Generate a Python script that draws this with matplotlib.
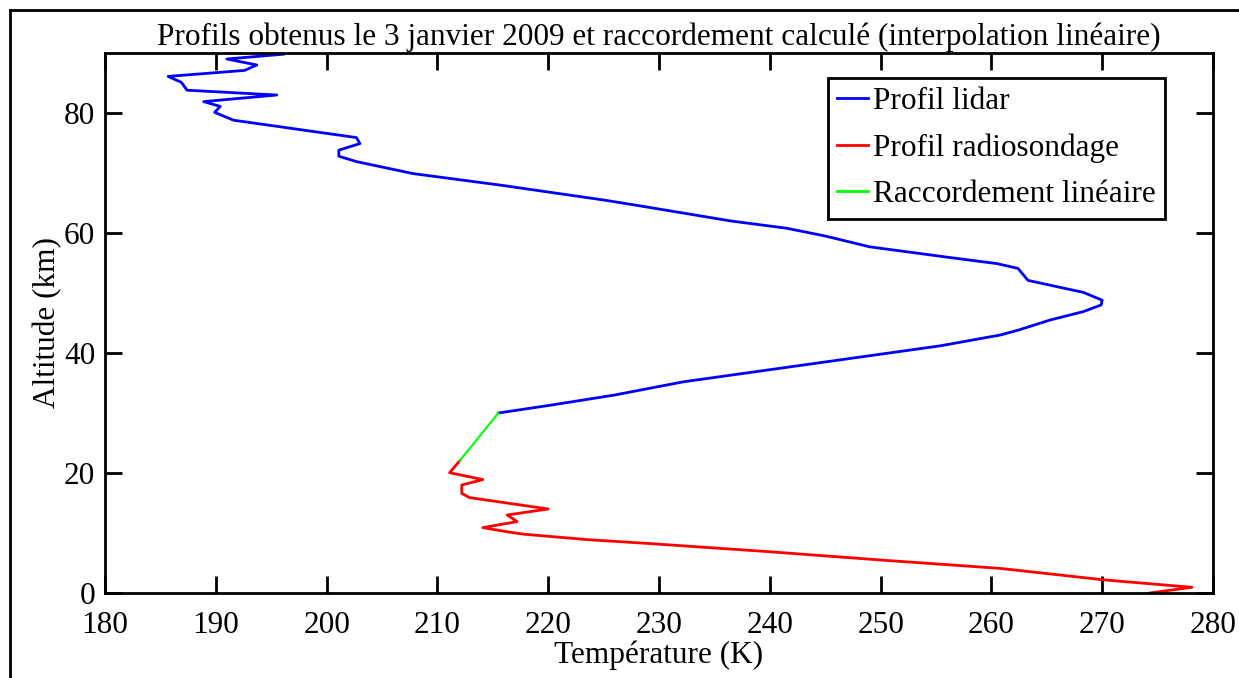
import matplotlib
matplotlib.use("Agg")
import matplotlib.pyplot as plt
from matplotlib.lines import Line2D

# Lidar profile (temperature K, altitude km)
lidar_alt = [30.0, 31.3, 33.0, 35.2, 38.3, 41.2, 43.0, 43.8, 45.5, 46.9, 48.0, 48.8,
             50.1, 52.1, 54.1, 54.9, 55.9, 57.7, 59.5, 60.8, 62.0, 64.7, 65.5, 68.0, 69.9,
             71.9, 72.8, 73.8, 74.9, 75.9, 78.8, 80.1, 81.1, 81.9, 83.0, 83.8, 85.1,
             86.1, 87.1, 88.0, 89.0, 89.8]
lidar_T = [215.5, 220.2, 226.0, 232.2, 244.2, 255.4, 260.8, 262.4, 265.3, 268.3, 269.9, 270.0,
           268.3, 263.3, 262.4, 260.5, 256.3, 249.0, 245.0, 241.5, 236.5, 227.7, 225.0, 215.6, 207.8,
           202.7, 201.1, 201.1, 203.0, 202.7, 191.6, 189.9, 190.4, 188.9, 195.5, 187.4, 186.9,
           185.7, 192.6, 193.7, 191.0, 196.1]

# Radiosonde profile
radio_alt = [0.0, 0.95, 2.2, 4.1, 5.5, 6.9, 8.2, 8.9, 9.8, 10.2, 10.9, 11.9, 13.0, 14.0,
             15.9, 16.6, 18.0, 18.9, 20.05, 22.0]
radio_T = [274.3, 278.1, 270.1, 260.8, 250.0, 239.8, 229.5, 223.5, 217.8, 216.3, 214.1, 217.2,
           216.3, 220.0, 212.9, 212.2, 212.2, 214.1, 211.1, 212.0]

# Linear connection
link_alt = [22.0, 30.0]
link_T = [212.0, 215.5]

x_ticks = [180, 190, 200, 210, 220, 230, 240, 250, 260, 270, 280]
y_ticks = [0, 20, 40, 60, 80]

plt.rcParams['font.family'] = ['Liberation Serif', 'DejaVu Serif']

FS = 22.5

fig = plt.figure(figsize=(12.39, 6.78), dpi=100)
ax = fig.add_axes([105/1239, 1 - 593/678, (1213 - 105)/1239, (593 - 53)/678])

ax.plot(lidar_T, lidar_alt, color=(0, 0, 1), lw=2.0, label='Profil lidar')
ax.plot(radio_T, radio_alt, color=(1, 0, 0), lw=2.0, label='Profil radiosondage')
ax.plot(link_T, link_alt, color=(0, 1, 0), lw=1.5, label='Raccordement linéaire')

ax.set_xlim(180, 280)
ax.set_ylim(0, 90)
ax.set_xticks(x_ticks)
ax.set_yticks(y_ticks)
ax.tick_params(direction='in', length=12, width=2, top=True, right=True,
               labelsize=FS)
ax.tick_params(axis='x', pad=13)
ax.tick_params(axis='y', pad=7)
for s in ax.spines.values():
    s.set_linewidth(2)

ax.set_title('Profils obtenus le 3 janvier 2009 et raccordement calculé (interpolation linéaire)',
             fontsize=FS, pad=6)
ax.set_xlabel('Température (K)', fontsize=FS, labelpad=0)
ax.set_ylabel('Altitude (km)', fontsize=FS, labelpad=1)

leg = ax.legend(loc='upper right', bbox_to_anchor=(1165/1239, 1 - 78/678),
                bbox_transform=fig.transFigure, fontsize=FS, handlelength=1.0,
                handletextpad=0.15, borderpad=0.3, labelspacing=0.55, fancybox=False,
                framealpha=1, edgecolor='black', borderaxespad=0)
leg.get_frame().set_linewidth(2)
for l in leg.get_lines():
    l.set_linewidth(2)

# figure frame lines (left and top)
fig.add_artist(Line2D([10/1239, 10/1239], [0, 1 - 10/678], transform=fig.transFigure,
                      color='black', lw=2))
fig.add_artist(Line2D([10/1239, 1], [1 - 10/678, 1 - 10/678], transform=fig.transFigure,
                      color='black', lw=2))

fig.savefig('out.png', dpi=100)
